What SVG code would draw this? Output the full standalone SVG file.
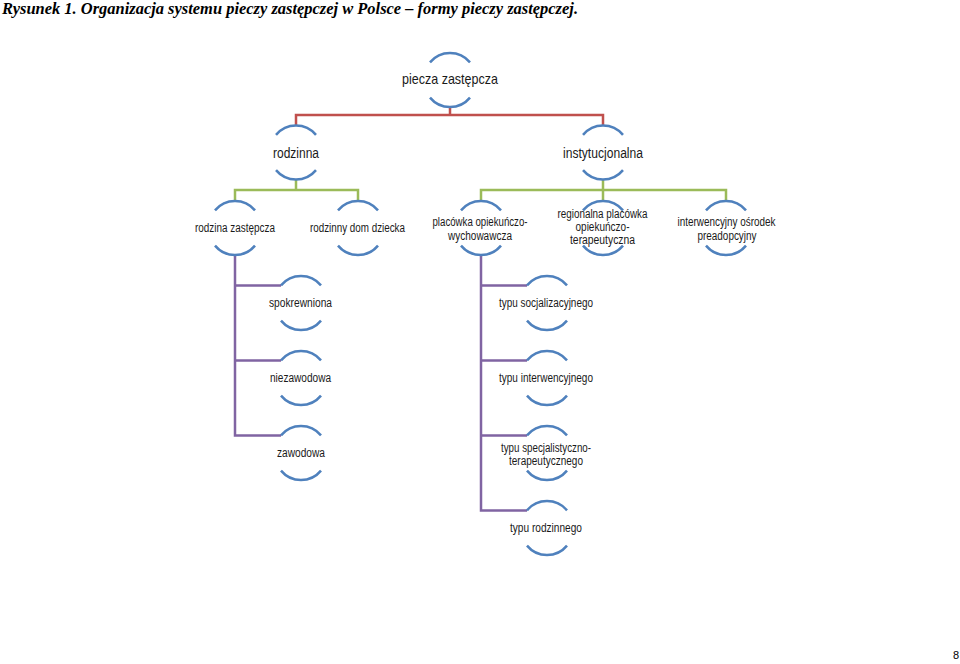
<svg xmlns="http://www.w3.org/2000/svg" xmlns:xlink="http://www.w3.org/1999/xlink" width="960" height="664" viewBox="0 0 960 664">
<defs>
<style>
.arc{fill:none;stroke:#4f81bd;stroke-width:2.5}
.red{fill:none;stroke:#c0504d;stroke-width:2.5}
.grn{fill:none;stroke:#9bbb59;stroke-width:2.5}
.pur{fill:none;stroke:#8064a2;stroke-width:2.5}
.t{font-family:"Liberation Sans",Arial,sans-serif;fill:#1a1a1a;text-anchor:middle}
.t1{font-size:15px}
.t2{font-size:14px}
.t3{font-size:12.5px}
.title{font-family:"Liberation Serif","Times New Roman",serif;font-weight:bold;font-style:italic;font-size:16px;fill:#000}
</style>
<path id="arcs" class="arc" d="M-20,-17.6 A26,26 0 0 1 20,-17.6 M-20,17.6 A26,26 0 0 0 20,17.6"/>
</defs>
<rect width="960" height="664" fill="#fff"/>
<text class="title" x="2" y="14" textLength="576" lengthAdjust="spacingAndGlyphs">Rysunek 1. Organizacja systemu pieczy zastępczej w Polsce – formy pieczy zastępczej.</text>
<g id="connectors">
<path class="red" d="M450,107V115 M296,125.5V115H603V125.5"/>
<path class="grn" d="M296,179.5V190 M235,201V190H358V201"/>
<path class="grn" d="M603,179.5V201 M481,201V190H726V201"/>
<path class="pur" d="M235,255V435.4 M235,285.4H281 M235,360.4H281 M233.75,435.4H281"/>
<path class="pur" d="M481,255V510.4 M481,285.4H527 M481,360.4H527 M481,435.4H527 M479.75,510.4H527"/>
</g>
<g id="n-piecza"><use xlink:href="#arcs" x="450" y="80"/><text class="t t1" x="450" y="84" textLength="96" lengthAdjust="spacingAndGlyphs">piecza zastępcza</text></g>
<g id="n-rodzinna"><use xlink:href="#arcs" x="296" y="152.5"/><text class="t t2" x="296" y="158" textLength="46" lengthAdjust="spacingAndGlyphs">rodzinna</text></g>
<g id="n-instytucjonalna"><use xlink:href="#arcs" x="603" y="152.5"/><text class="t t2" x="603" y="158" textLength="80" lengthAdjust="spacingAndGlyphs">instytucjonalna</text></g>
<g id="n-rodzina-zastepcza"><use xlink:href="#arcs" x="235" y="228"/><text class="t t3" x="235" y="232" textLength="80" lengthAdjust="spacingAndGlyphs">rodzina zastępcza</text></g>
<g id="n-rodzinny-dom"><use xlink:href="#arcs" x="358" y="228"/><text class="t t3" x="357.5" y="232" textLength="95" lengthAdjust="spacingAndGlyphs">rodzinny dom dziecka</text></g>
<g id="n-placowka"><use xlink:href="#arcs" x="481" y="228"/><text class="t t3" x="480" y="226" textLength="95" lengthAdjust="spacingAndGlyphs">placówka opiekuńczo-</text><text class="t t3" x="480" y="240" textLength="64" lengthAdjust="spacingAndGlyphs">wychowawcza</text></g>
<g id="n-regionalna"><use xlink:href="#arcs" x="603" y="228"/><text class="t t3" x="602.5" y="218" textLength="90" lengthAdjust="spacingAndGlyphs">regionalna placówka</text><text class="t t3" x="602.5" y="231" textLength="54" lengthAdjust="spacingAndGlyphs">opiekuńczo-</text><text class="t t3" x="602.5" y="244" textLength="65" lengthAdjust="spacingAndGlyphs">terapeutyczna</text></g>
<g id="n-interwencyjny"><use xlink:href="#arcs" x="726" y="228"/><text class="t t3" x="726.5" y="226" textLength="98" lengthAdjust="spacingAndGlyphs">interwencyjny ośrodek</text><text class="t t3" x="727" y="240" textLength="59" lengthAdjust="spacingAndGlyphs">preadopcyjny</text></g>
<g id="n-spokrewniona"><use xlink:href="#arcs" x="301" y="303"/><text class="t t3" x="300.5" y="307" textLength="63" lengthAdjust="spacingAndGlyphs">spokrewniona</text></g>
<g id="n-niezawodowa"><use xlink:href="#arcs" x="301" y="378"/><text class="t t3" x="300.5" y="382" textLength="61" lengthAdjust="spacingAndGlyphs">niezawodowa</text></g>
<g id="n-zawodowa"><use xlink:href="#arcs" x="301" y="453"/><text class="t t3" x="301" y="457" textLength="48" lengthAdjust="spacingAndGlyphs">zawodowa</text></g>
<g id="n-socjalizacyjnego"><use xlink:href="#arcs" x="547" y="303"/><text class="t t3" x="546" y="307" textLength="94" lengthAdjust="spacingAndGlyphs">typu socjalizacyjnego</text></g>
<g id="n-interwencyjnego"><use xlink:href="#arcs" x="547" y="378"/><text class="t t3" x="546" y="382" textLength="94" lengthAdjust="spacingAndGlyphs">typu interwencyjnego</text></g>
<g id="n-specjalistyczno"><use xlink:href="#arcs" x="547" y="453"/><text class="t t3" x="546" y="452" textLength="90" lengthAdjust="spacingAndGlyphs">typu specjalistyczno-</text><text class="t t3" x="546" y="465" textLength="74" lengthAdjust="spacingAndGlyphs">terapeutycznego</text></g>
<g id="n-rodzinnego"><use xlink:href="#arcs" x="547" y="528"/><text class="t t3" x="546" y="532" textLength="72" lengthAdjust="spacingAndGlyphs">typu rodzinnego</text></g>
<text x="959" y="659" font-family="Liberation Sans,Arial,sans-serif" font-size="11" text-anchor="end" fill="#000">8</text>
</svg>
